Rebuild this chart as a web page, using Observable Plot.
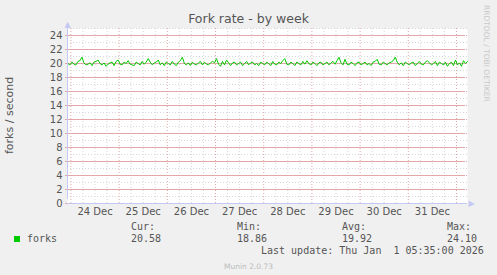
<!DOCTYPE html>
<html><head><meta charset="utf-8">
<script src="https://cdn.jsdelivr.net/npm/d3@7"></script>
<script src="https://cdn.jsdelivr.net/npm/@observablehq/plot@0.6"></script>
<style>
html,body{margin:0;padding:0;background:#f0f0f0;}
#wrap{position:relative;width:497px;height:275px;background:#f0f0f0;overflow:hidden;font-family:"DejaVu Sans",sans-serif;}
#wrap svg{position:absolute;left:0;top:0;}
.t{position:absolute;white-space:pre;}
.mono{font-family:"DejaVu Sans Mono",monospace;font-size:10px;color:#555;}
</style></head>
<body><div id="wrap"></div>
<script>
const title = "Fork rate - by week";
const yLabel = "forks / second";
const seriesName = "forks";
const dayLabels = ["24 Dec","25 Dec","26 Dec","27 Dec","28 Dec","29 Dec","30 Dec","31 Dec"];
const yTicks = [0,2,4,6,8,10,12,14,16,18,20,22,24];
const stats = {Cur:"20.58", Min:"18.86", Avg:"19.92", Max:"24.10"};
const lastUpdate = "Last update: Thu Jan  1 05:35:00 2026";
const footer = "Munin 2.0.73";
const sideText = "RRDTOOL / TOBI OETIKER";
// hourly samples starting 2025-12-23 22:30 UTC
const forks = [
20.0,19.8,20.2,19.9,19.8,20.3,20.4,20.9,20.1,19.8,
19.9,20.1,19.7,20.2,20.3,20.5,20.0,19.8,20.1,19.6,
19.9,20.1,20.2,19.7,20.3,20.5,19.9,19.8,20.2,20.0,
20.4,19.9,19.8,19.7,20.2,20.0,19.8,20.3,19.9,20.2,
20.7,20.2,19.8,20.1,20.2,20.5,19.8,20.1,19.7,20.2,
20.0,19.8,20.3,19.9,19.7,20.2,20.4,20.9,20.0,19.8,
20.1,19.7,20.2,19.9,19.8,20.1,20.3,19.8,20.2,19.9,
19.8,20.1,20.3,20.1,20.7,19.9,19.6,20.3,19.8,20.5,
20.1,19.7,20.1,20.2,19.8,20.0,20.2,19.7,20.0,20.3,
19.8,20.1,20.2,19.8,20.0,19.7,20.2,20.0,19.8,20.2,
20.0,19.7,20.3,19.9,19.8,20.2,20.0,20.4,20.7,19.9,
19.8,20.2,20.0,19.7,20.2,20.0,19.8,20.3,19.9,20.4,
20.0,19.8,20.2,20.0,19.7,20.1,20.2,19.8,20.0,20.2,
19.8,20.1,20.3,19.9,20.4,20.9,20.1,19.8,20.6,19.9,
19.8,20.2,20.0,19.7,20.1,20.2,19.8,20.0,20.2,19.8,
20.0,19.7,20.2,20.3,20.6,19.9,19.8,20.2,20.0,19.8,
20.1,20.2,20.4,20.9,20.2,19.8,20.1,19.7,20.2,20.0,
19.8,20.1,20.2,19.7,20.0,20.3,19.9,19.8,20.2,20.4,
20.1,19.8,20.0,20.3,19.7,20.2,20.0,19.8,20.2,19.6,
20.0,20.2,19.7,20.5,19.8,20.1,19.6,20.4,20.0,20.3
];
const start = Date.UTC(2025,11,23,22,30);
const data = forks.map((v,i)=>({t:new Date(start+i*3600e3), v}));
const x0 = new Date(Date.UTC(2025,11,23,22,18)), x1 = new Date(Date.UTC(2026,0,1,5,29));
const midnights = d3.utcDay.range(d3.utcDay.ceil(x0), x1);
const sixHours = d3.utcHour.every(6).range(x0, x1).filter(d=>d.getUTCHours()!==0);
const noons = dayLabels.map((s,i)=>new Date(Date.UTC(2025,11,24+i,12)));
const minorY = d3.range(1,26,2);
const gridGray = "#d8d8d8", gridRed = "#e0a8a8", axisCol = "#c4c8f4";

const plot = Plot.plot({
  width:497, height:275,
  marginLeft:67, marginRight:30, marginTop:28, marginBottom:72,
  style:{background:"transparent", fontFamily:"DejaVu Sans, sans-serif", fontSize:"10px", color:"#555"},
  x:{type:"utc", domain:[x0,x1]},
  y:{domain:[0,25]},
  marks:[
    Plot.frame({fill:"white", stroke:"none"}),
    Plot.ruleY(minorY, {stroke:gridGray, strokeDasharray:"1,2"}),
    Plot.ruleX(sixHours, {stroke:gridGray, strokeDasharray:"1,2"}),
    Plot.ruleY(yTicks.filter(d=>d>0), {stroke:gridRed, strokeDasharray:"1,2"}),
    Plot.ruleX(midnights, {stroke:gridRed, strokeDasharray:"1,2"}),
    Plot.tickY(yTicks, {stroke:gridRed, dx:-2}),
    Plot.line(data, {x:"t", y:"v", stroke:"#00cc00", strokeWidth:1}),
    Plot.ruleY([0], {stroke:axisCol, x1:x0, x2:x1, dx:0}),
    Plot.ruleX([x0], {stroke:axisCol, y1:0, y2:25, insetTop:-4}),
    Plot.text([x1], {x:d=>d, y:0, text:()=>"▶", fill:axisCol, dx:4, fontSize:8}),
    Plot.text([x0], {x:d=>d, y:25, text:()=>"▲", fill:axisCol, dy:-4, fontSize:8}),
    Plot.axisY(yTicks, {tickSize:0, tickPadding:5, label:null, fontSize:10, fill:"#555"}),
    Plot.axisX(noons, {tickSize:0, tickPadding:4, tickFormat:(d,i)=>dayLabels[i], label:null, fontSize:10, fill:"#555"})
  ]
});
const wrap = document.getElementById("wrap");
wrap.appendChild(plot);
function addText(txt, css, cls){const d=document.createElement("div");d.className="t "+(cls||"");d.textContent=txt;Object.assign(d.style,css);wrap.appendChild(d);return d;}
addText(title,{left:"0",width:"497px",textAlign:"center",top:"11px",fontSize:"12.5px",color:"#555"});
addText(yLabel,{left:"3px",top:"70px",height:"90px",fontSize:"11px",color:"#555",writingMode:"vertical-rl",transform:"rotate(180deg)",textAlign:"center"});
addText(sideText,{left:"482px",top:"5px",fontSize:"7.5px",color:"#c8c8c8",writingMode:"vertical-rl"});
const sq = document.createElement("div");Object.assign(sq.style,{position:"absolute",left:"14px",top:"236px",width:"6px",height:"6px",background:"#00cc00"});wrap.appendChild(sq);
addText(seriesName,{left:"27px",top:"233px"},"mono");
const cols = [["Cur",131],["Min",237],["Avg",342],["Max",447]];
cols.forEach(([k,x])=>{addText(k+":",{left:x+"px",top:"221px"},"mono");addText(stats[k],{left:x+"px",top:"233px"},"mono");});
addText(lastUpdate,{left:"261px",top:"245px"},"mono");
addText(footer,{left:"0",width:"497px",textAlign:"center",top:"262px",fontSize:"7.5px",color:"#bbb"});
</script></body></html>
